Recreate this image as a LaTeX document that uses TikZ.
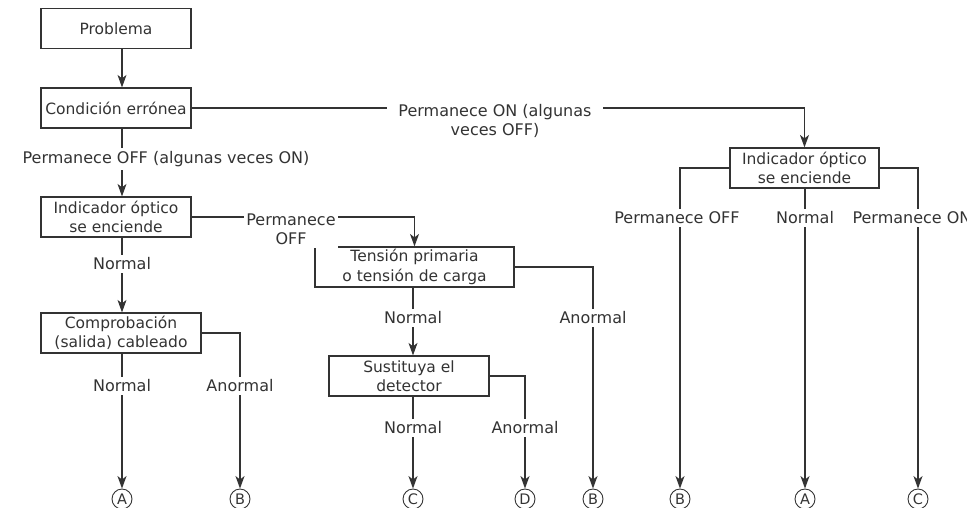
\documentclass[tikz,border=0pt]{standalone}
\usepackage{fontspec}
\setmainfont{DejaVu Sans}
\usetikzlibrary{arrows.meta,calc}
\definecolor{ink}{HTML}{333333}
\begin{document}
\begin{tikzpicture}[x=1pt,y=-1pt,
  every node/.style={font=\fontsize{16}{19.5}\selectfont, text=ink},
  box/.style={draw=ink, line width=1.2pt, fill=white, align=center, inner sep=0pt, minimum height=40pt, font=\fontsize{15.5}{19.5}\selectfont},
  lab/.style={fill=white, inner xsep=2pt, inner ysep=3pt, align=center},
  conn/.style={draw=ink, line width=1.2pt},
  arr/.style={conn, -{Stealth[length=12.5pt,width=9pt,inset=3.5pt]}},
  circ/.style={circle, draw=ink, line width=0.9pt, inner sep=0pt, minimum size=20pt, font=\fontsize{14.5}{14.5}\selectfont}
]
\useasboundingbox (0,0) rectangle (967,507);
% boxes
\node[box, minimum width=150pt] (prob) at (116,28.5) {Problema};
\node[box, minimum width=150pt] (cond) at (116,108) {Condición errónea};
\node[box, minimum width=150pt] (lind) at (116,217) {Indicador óptico\\se enciende};
\node[box, minimum width=160pt] (comp) at (121,333) {Comprobación\\(salida) cableado};
\node[box, minimum width=199pt] (tens) at (414.5,267) {Tensión primaria\\o tensión de carga};
\node[box, minimum width=160pt] (sust) at (409,376) {Sustituya el\\detector};
\node[box, minimum width=149pt] (rind) at (804.5,168) {Indicador óptico\\se enciende};
% end circles
\node[circ] (cA1) at (122,499) {A};
\node[circ] (cB1) at (240,499) {B};
\node[circ] (cC1) at (413,499) {C};
\node[circ] (cD)  at (525,499) {D};
\node[circ] (cB2) at (593,499) {B};
\node[circ] (cB3) at (680,499) {B};
\node[circ] (cA2) at (805,499) {A};
\node[circ] (cC2) at (918,499) {C};
% connectors
\draw[arr] (prob.south -| cA1) -- (cond.north -| cA1);
\draw[arr] (cond.south -| cA1) -- (lind.north -| cA1);
\node[lab] (l1) at (166,159) {Permanece OFF (algunas veces ON)};
\draw[arr] (lind.south -| cA1) -- (comp.north -| cA1);
\node[lab] (l2) at (122,264) {Normal};
\draw[arr] (comp.south -| cA1) -- (cA1.north);
\node[lab] (l3) at (122,386) {Normal};
\draw[arr] (comp.east) -| (cB1.north);
\node[lab] (l4) at (240,386) {Anormal};
\draw[arr] (lind.east) -| (tens.north);
\node[lab, anchor=north] (l5) at (291,210.5) {Permanece\\OFF};
\draw[arr] (tens.south -| cC1) -- (sust.north -| cC1);
\node[lab] (l6) at (413,318) {Normal};
\draw[arr] (tens.east) -| (cB2.north);
\node[lab] (l7) at (593,318) {Anormal};
\draw[arr] (sust.south -| cC1) -- (cC1.north);
\node[lab] (l8) at (413,428) {Normal};
\draw[arr] (sust.east) -| (cD.north);
\node[lab] (l9) at (525,428) {Anormal};
\draw[arr] (cond.east) -| (rind.north);
\node[lab, inner xsep=11pt, inner ysep=0pt, anchor=north] (l10) at (495,104) {Permanece ON (algunas\\veces OFF)};
\draw[arr] (rind.west) -| (cB3.north);
\node[lab] (l11) at (677,218) {Permanece OFF};
\draw[arr] (rind.south -| cA2) -- (cA2.north);
\node[lab] (l12) at (805,218) {Normal};
\draw[arr] (rind.east) -| (cC2.north);
\node[lab] (l13) at (912,218) {Permanece ON};
\end{tikzpicture}
\end{document}
